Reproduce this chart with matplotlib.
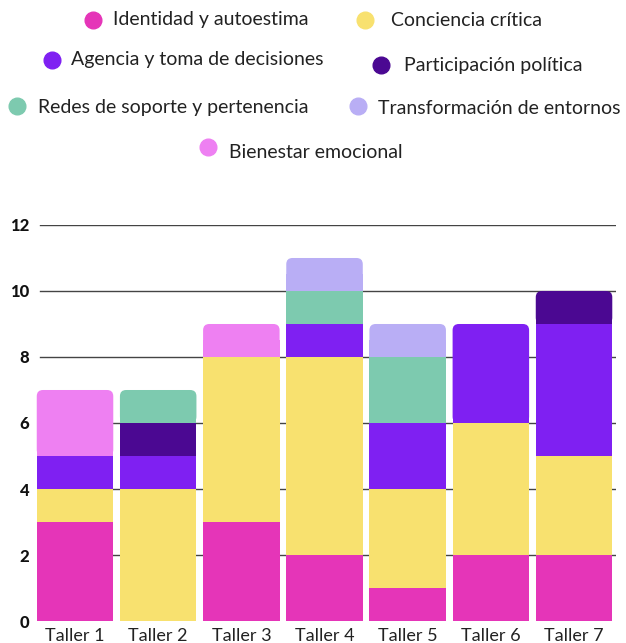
import numpy as np
import matplotlib
matplotlib.use("Agg")
import matplotlib.pyplot as plt
from matplotlib.patches import FancyBboxPatch, Rectangle
from matplotlib.lines import Line2D

plt.rcParams['font.family'] = ['Lato', 'DejaVu Sans']

# Data
talleres = ["Taller 1", "Taller 2", "Taller 3", "Taller 4", "Taller 5", "Taller 6", "Taller 7"]
categorias = ["Identidad y autoestima", "Conciencia crítica", "Agencia y toma de decisiones",
              "Participación política", "Redes de soporte y pertenencia",
              "Transformación de entornos", "Bienestar emocional"]
identidad = [3, 0, 3, 2, 1, 2, 2]
conciencia = [1, 4, 5, 6, 3, 4, 3]
agencia = [1, 1, 0, 1, 2, 3, 4]
participacion = [0, 1, 0, 0, 0, 0, 1]
redes = [0, 1, 0, 1, 2, 0, 0]
transformacion = [0, 0, 0, 1, 1, 0, 0]
bienestar = [2, 0, 1, 0, 0, 0, 0]
yticks = [0, 2, 4, 6, 8, 10, 12]

colores = ["#E535B8", "#F8E16F", "#7F20F2", "#4B0892", "#7DCAAF", "#B9AEF5", "#EE80F2"]

series = np.array([identidad, conciencia, agencia, participacion, redes, transformacion, bienestar])

fig = plt.figure(figsize=(6.26, 6.43), dpi=100)
ax = fig.add_axes([0.0534, 0.0342, 0.930, 0.6159])
ax.set_xlim(-0.5, 6.5)
ax.set_ylim(0, 12)

x = np.arange(len(talleres))
width = 0.92
bottoms = np.zeros(len(talleres))
totals = series.sum(axis=0)

# aspect factor so that rounded corners look circular on screen
fig.canvas.draw()
bb = ax.get_window_extent()
aspect = (bb.width / 7.0) / (bb.height / 12.0)

for i, vals in enumerate(series):
    for j, v in enumerate(vals):
        if v == 0:
            continue
        b = bottoms[j]
        if np.isclose(b + v, totals[j]):
            # top segment: rounded top corners only
            ax.add_patch(FancyBboxPatch((x[j] - width / 2, b), width, v,
                                        boxstyle="round,pad=0,rounding_size=0.075",
                                        mutation_aspect=aspect,
                                        facecolor=colores[i], edgecolor="none", zorder=3))
            ax.add_patch(Rectangle((x[j] - width / 2, b), width, v / 2,
                                   facecolor=colores[i], edgecolor="none", zorder=3))
        else:
            ax.bar(x[j], v, width=width, bottom=b, color=colores[i], linewidth=0, zorder=3)
    bottoms += vals

for t in yticks[1:]:
    ax.axhline(t, xmin=0.012, color="#444444", linewidth=1, zorder=1)

ax.set_yticks(yticks)
ax.set_yticklabels([str(t) for t in yticks], fontweight="black", fontsize=12, color="#111111")
ax.set_xticks(x)
ax.set_xticklabels(talleres, fontsize=13, color="#222222")
ax.tick_params(axis="both", length=0)
ax.tick_params(axis="y", pad=3)
ax.tick_params(axis="x", pad=5)
for s in ax.spines.values():
    s.set_visible(False)

# Legend drawn manually in rows: (marker x, marker y, text x, text y, index) in pixels
filas = [
    (93, 20, 113, 20, 0), (365, 20, 391, 21, 1),
    (52, 60, 71, 60, 2), (381, 65, 404, 66, 3),
    (17, 106, 38, 108, 4), (358, 106, 378, 108, 5),
    (208, 147, 229, 152, 6),
]
W, H = 626.0, 643.0
for mx, my, tx, ty, k in filas:
    fig.add_artist(Line2D([mx / W], [1 - my / H], marker="o", markersize=12,
                          color=colores[k], linestyle="none", transform=fig.transFigure))
    fig.text(tx / W, 1 - ty / H, categorias[k], fontsize=14, color="#222222",
             ha="left", va="center")

fig.savefig("out.png", dpi=100)
